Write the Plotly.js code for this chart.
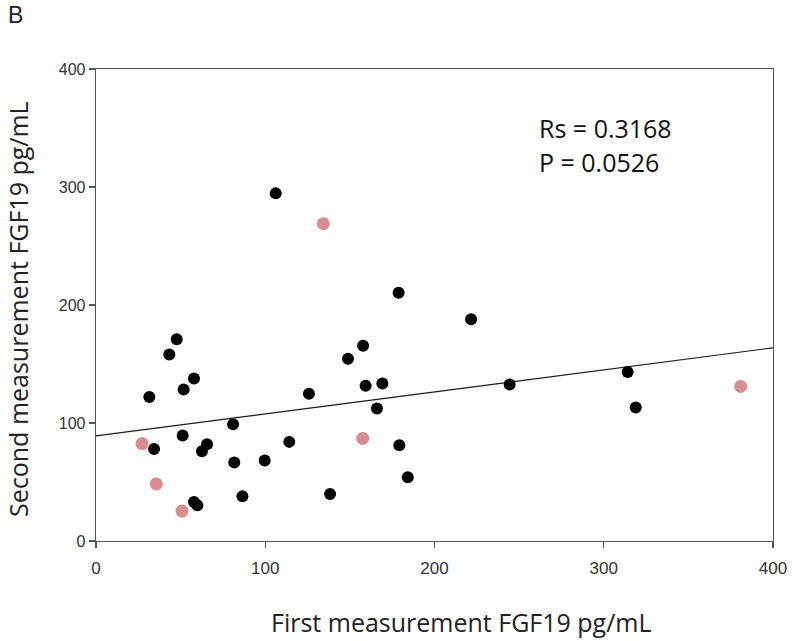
<!DOCTYPE html>
<html>
<head>
<meta charset="utf-8">
<script src="https://cdn.plot.ly/plotly-3.0.1.min.js"></script>
<style>html,body{margin:0;padding:0;background:#fff;}#chart{width:800px;height:641px;}</style>
</head>
<body>
<div id="chart"></div>
<script>
// Black points (first measurement, second measurement)
const blackX = [47.7, 43.3, 57.9, 51.8, 31.5, 81.0, 51.2, 34.3, 65.6, 62.6, 81.7, 86.5, 57.9, 59.9,
                106.2, 178.8, 157.8, 148.9, 159.3, 169.2, 125.8, 166.0, 114.2, 179.2, 99.7, 184.2, 138.3,
                221.6, 244.4, 314.1, 318.9];
const blackY = [171.0, 158.0, 137.7, 128.4, 122.0, 99.0, 89.4, 78.0, 82.0, 76.0, 66.5, 38.0, 33.0, 30.3,
                294.6, 210.4, 165.4, 154.4, 131.5, 133.5, 124.7, 112.3, 84.0, 81.2, 68.2, 54.0, 39.9,
                188.0, 132.6, 143.3, 113.1];
// Pink points
const pinkX = [27.2, 35.6, 50.8, 134.3, 157.6, 380.9];
const pinkY = [82.6, 48.4, 25.4, 268.9, 86.9, 131.0];
// Regression line end points
const trendX = [0, 400];
const trendY = [89.0, 163.7];

const xTicks = [0, 100, 200, 300, 400];
const yTicks = [0, 100, 200, 300, 400];
const statsText = ["Rs = 0.3168", "P = 0.0526"];

const traces = [
  {x: trendX, y: trendY, mode: 'lines', type: 'scatter',
   line: {color: '#1a1a1a', width: 1.2}, hoverinfo: 'skip', showlegend: false},
  {x: blackX, y: blackY, mode: 'markers', type: 'scatter',
   marker: {color: '#000000', size: 12}, showlegend: false},
  {x: pinkX, y: pinkY, mode: 'markers', type: 'scatter',
   marker: {color: '#d98e8e', size: 13}, showlegend: false}
];

const axisCommon = {
  showgrid: false, zeroline: false, showline: true, mirror: true,
  linecolor: '#555555', linewidth: 1.3, ticks: 'outside', ticklen: 6,
  tickcolor: '#555555', tickwidth: 1.3
};

const layout = {
  width: 800, height: 641,
  paper_bgcolor: '#ffffff', plot_bgcolor: '#ffffff',
  margin: {l: 96, r: 27, t: 69, b: 100},
  xaxis: Object.assign({}, axisCommon, {range: [0, 400], tickvals: xTicks, ticktext: xTicks.map(String),
    ticklabelstandoff: 5,
    tickfont: {family: 'Liberation Sans Narrow, Liberation Sans, Arial, sans-serif', size: 17, color: '#333333'}}),
  yaxis: Object.assign({}, axisCommon, {range: [0, 400], tickvals: yTicks, ticktext: yTicks.map(String),
    tickfont: {family: 'Liberation Sans, Arial, sans-serif', size: 16, color: '#333333'}}),
  annotations: [
    {text: 'B', xref: 'paper', yref: 'paper', x: -96/677, y: 1 + 69/472, xanchor: 'left', yanchor: 'top',
     xshift: 6, yshift: 0, showarrow: false,
     font: {family: 'Liberation Sans, Arial, sans-serif', size: 23, color: '#222'}},
    {text: statsText[0], x: 260.5, y: 350, xref: 'x', yref: 'y', xanchor: 'left', yanchor: 'middle',
     showarrow: false, font: {family: 'Open Sans, sans-serif', size: 25, color: '#111'}},
    {text: statsText[1], x: 260.5, y: 321, xref: 'x', yref: 'y', xanchor: 'left', yanchor: 'middle',
     showarrow: false, font: {family: 'Open Sans, sans-serif', size: 25, color: '#111'}},
    {text: 'First measurement FGF19 pg/mL', xref: 'paper', yref: 'paper', x: (461-96)/677, y: 0,
     xanchor: 'center', yanchor: 'middle', yshift: -81, showarrow: false,
     font: {family: 'Open Sans, sans-serif', size: 25, color: '#222'}},
    {text: 'Second measurement FGF19 pg/mL', xref: 'paper', yref: 'paper', x: 0, y: (541-309)/472,
     xanchor: 'center', yanchor: 'middle', xshift: -78, textangle: -90, showarrow: false,
     font: {family: 'Open Sans, sans-serif', size: 25, color: '#222'}}
  ]
};

Plotly.newPlot('chart', traces, layout, {displayModeBar: false, staticPlot: true});
</script>
</body>
</html>
